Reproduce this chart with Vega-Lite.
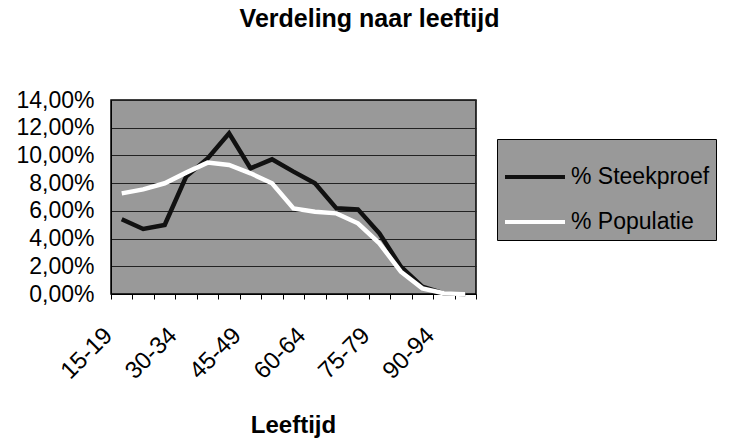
{
  "$schema": "https://vega.github.io/schema/vega-lite/v6.json",
  "autosize": "none",
  "width": 365,
  "height": 194,
  "padding": {"left": 111, "top": 100, "right": 258, "bottom": 145},
  "background": "white",
  "title": {
    "text": "Verdeling naar leeftijd",
    "font": "Liberation Sans",
    "fontSize": 25,
    "fontWeight": "bold",
    "color": "#000",
    "anchor": "middle",
    "frame": "group",
    "dx": 76,
    "offset": 57
  },
  "data": {
    "values": [
      {"age": "15-19", "series": "% Steekproef", "v": 0.0539},
      {"age": "20-24", "series": "% Steekproef", "v": 0.0469},
      {"age": "25-29", "series": "% Steekproef", "v": 0.0498},
      {"age": "30-34", "series": "% Steekproef", "v": 0.0847},
      {"age": "35-39", "series": "% Steekproef", "v": 0.0979},
      {"age": "40-44", "series": "% Steekproef", "v": 0.1160},
      {"age": "45-49", "series": "% Steekproef", "v": 0.0907},
      {"age": "50-54", "series": "% Steekproef", "v": 0.0972},
      {"age": "55-59", "series": "% Steekproef", "v": 0.0883},
      {"age": "60-64", "series": "% Steekproef", "v": 0.0799},
      {"age": "65-69", "series": "% Steekproef", "v": 0.0618},
      {"age": "70-74", "series": "% Steekproef", "v": 0.0611},
      {"age": "75-79", "series": "% Steekproef", "v": 0.0438},
      {"age": "80-84", "series": "% Steekproef", "v": 0.0197},
      {"age": "85-89", "series": "% Steekproef", "v": 0.0053},
      {"age": "90-94", "series": "% Steekproef", "v": 0.0005},
      {"age": "95-99", "series": "% Steekproef", "v": 0.0},
      {"age": "15-19", "series": "% Populatie", "v": 0.0726},
      {"age": "20-24", "series": "% Populatie", "v": 0.0755},
      {"age": "25-29", "series": "% Populatie", "v": 0.0799},
      {"age": "30-34", "series": "% Populatie", "v": 0.0876},
      {"age": "35-39", "series": "% Populatie", "v": 0.0948},
      {"age": "40-44", "series": "% Populatie", "v": 0.0931},
      {"age": "45-49", "series": "% Populatie", "v": 0.0871},
      {"age": "50-54", "series": "% Populatie", "v": 0.0799},
      {"age": "55-59", "series": "% Populatie", "v": 0.0618},
      {"age": "60-64", "series": "% Populatie", "v": 0.0594},
      {"age": "65-69", "series": "% Populatie", "v": 0.0582},
      {"age": "70-74", "series": "% Populatie", "v": 0.0510},
      {"age": "75-79", "series": "% Populatie", "v": 0.0366},
      {"age": "80-84", "series": "% Populatie", "v": 0.0161},
      {"age": "85-89", "series": "% Populatie", "v": 0.0041},
      {"age": "90-94", "series": "% Populatie", "v": 0.0005},
      {"age": "95-99", "series": "% Populatie", "v": 0.0}
    ]
  },
  "mark": {"type": "line", "strokeWidth": 4.5, "strokeJoin": "miter"},
  "encoding": {
    "x": {
      "field": "age",
      "type": "ordinal",
      "sort": null,
      "scale": {"paddingInner": 0, "paddingOuter": 0},
      "axis": {
        "title": "Leeftijd",
        "titleFont": "Liberation Sans",
        "titleFontSize": 24,
        "titleFontWeight": "bold",
        "titleColor": "#000",
        "titleX": 182,
        "titleY": 138,
        "titleAlign": "center",
        "titleBaseline": "alphabetic",
        "labelExpr": "indexof(['15-19','30-34','45-49','60-64','75-79','90-94'], datum.value) >= 0 ? datum.label : ''",
        "labelAngle": -45,
        "labelAlign": "right",
        "labelBaseline": "top",
        "labelFont": "Liberation Sans",
        "labelFontSize": 24,
        "labelColor": "#000",
        "labelPadding": 24,
        "labelOffset": -22,
        "labelFlush": false,
        "labelOverlap": false,
        "tickBand": "extent",
        "tickColor": "#000",
        "tickSize": 5,
        "domainColor": "#000",
        "grid": false
      }
    },
    "y": {
      "field": "v",
      "type": "quantitative",
      "scale": {"domain": [0, 0.14], "nice": false},
      "axis": {
        "title": null,
        "values": [0, 0.02, 0.04, 0.06, 0.08, 0.1, 0.12, 0.14],
        "labelExpr": "replace(format(datum.value, '.2%'), '.', ',')",
        "labelFont": "Liberation Sans",
        "labelFontSize": 23,
        "labelColor": "#000",
        "labelPadding": 17,
        "labelFlush": false,
        "labelOverlap": false,
        "ticks": false,
        "domainColor": "#000",
        "grid": true,
        "gridColor": "#222",
        "gridWidth": 1
      }
    },
    "color": {
      "field": "series",
      "type": "nominal",
      "scale": {"domain": ["% Steekproef", "% Populatie"], "range": ["#111111", "#ffffff"]},
      "legend": {
        "title": null,
        "orient": "none",
        "legendX": 386,
        "legendY": 39,
        "fillColor": "#999999",
        "strokeColor": "#000",
        "padding": 6,
        "symbolType": "stroke",
        "symbolStrokeWidth": 4,
        "symbolSize": 3600,
        "rowPadding": 1,
        "labelOffset": 4,
        "labelFont": "Liberation Sans",
        "labelFontSize": 23,
        "labelColor": "#000",
        "labelLimit": 300
      }
    }
  },
  "config": {
    "view": {"fill": "#999999", "stroke": "#000", "strokeWidth": 1.5}
  }
}
